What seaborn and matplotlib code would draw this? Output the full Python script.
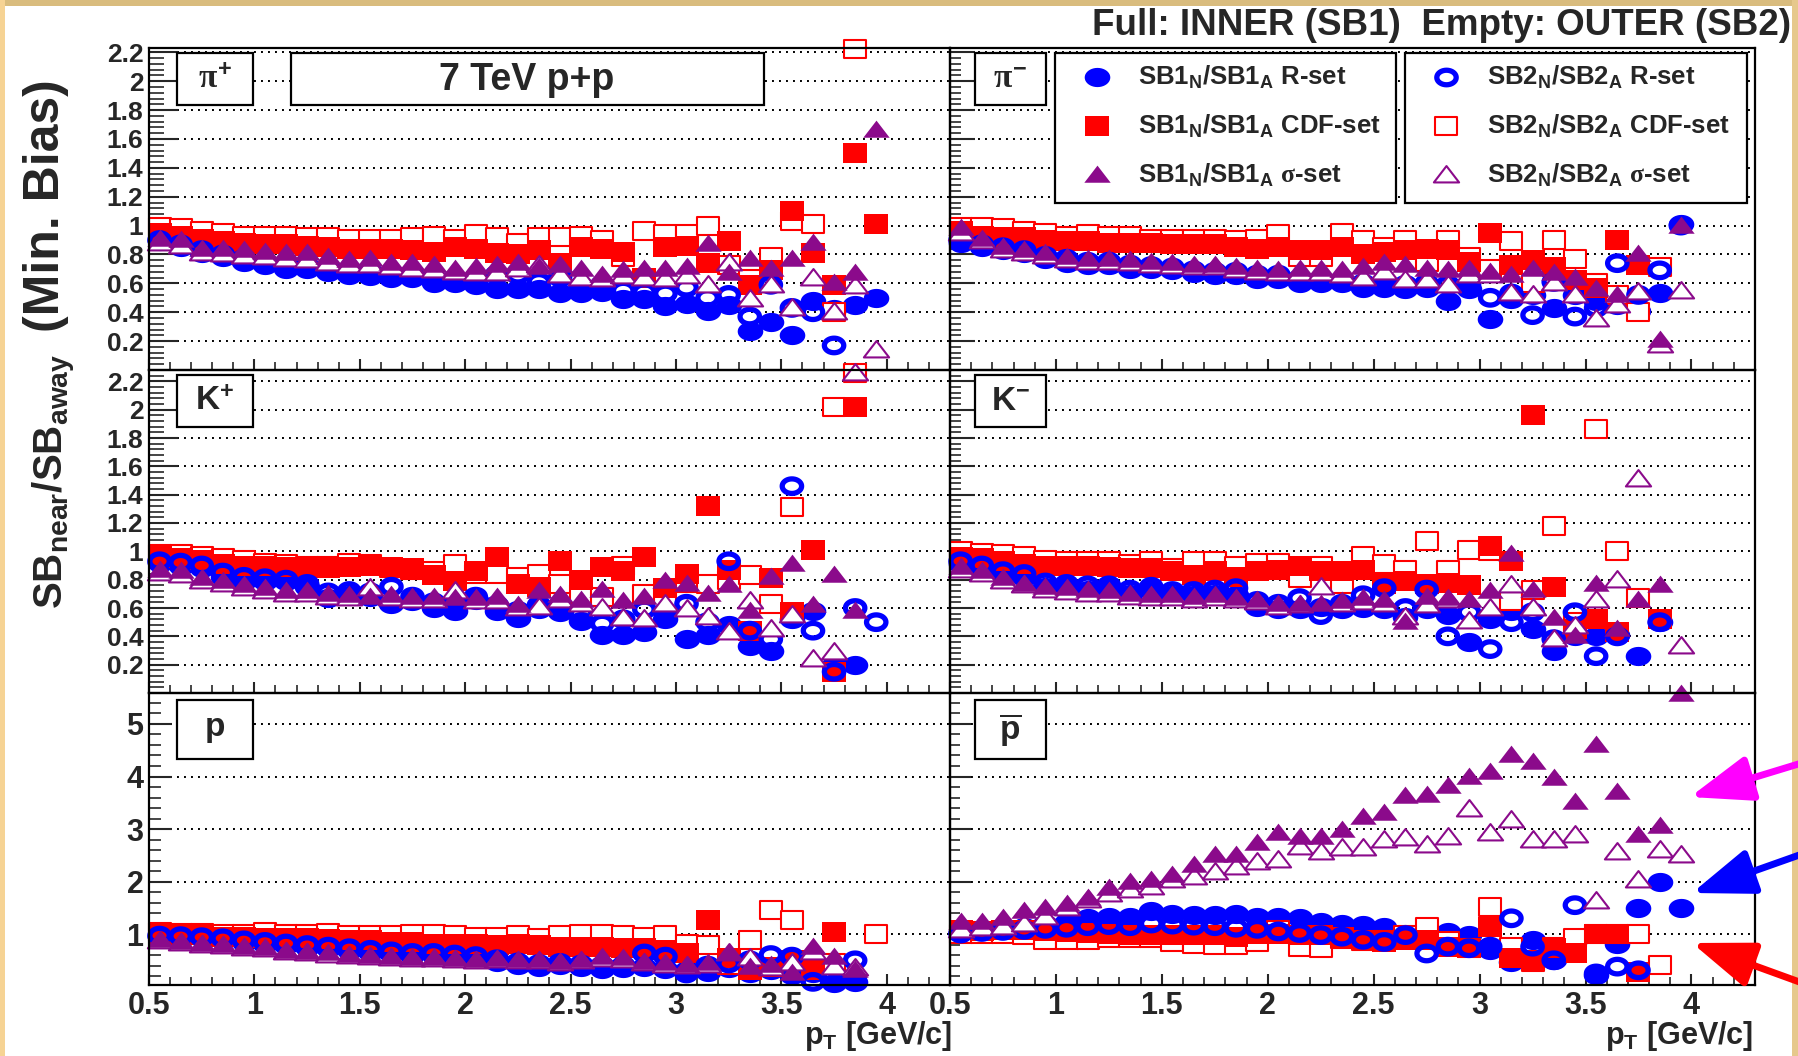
import numpy as np
import matplotlib
matplotlib.use("Agg")
import matplotlib.pyplot as plt
import seaborn as sns
from matplotlib.path import Path
from matplotlib.markers import MarkerStyle
from matplotlib.patches import Rectangle, FancyArrowPatch
from matplotlib.lines import Line2D
from matplotlib.ticker import MultipleLocator, FixedLocator, FuncFormatter

nan = np.nan

# pT bin centres [GeV/c]
pt = [0.55, 0.65, 0.75, 0.85, 0.95, 1.05, 1.15, 1.25, 1.35, 1.45, 1.55, 1.65,
      1.75, 1.85, 1.95, 2.05, 2.15, 2.25, 2.35, 2.45, 2.55, 2.65, 2.75, 2.85,
      2.95, 3.05, 3.15, 3.25, 3.35, 3.45, 3.55, 3.65, 3.75, 3.85, 3.95]

# pi+  (R1/C1/S1 = inner SB1, R2/C2/S2 = outer SB2)
pip_r1 = [0.89, 0.85, 0.81, 0.78, 0.75, 0.73, 0.70, 0.70, 0.68, 0.66, 0.65, 0.64, 0.64, 0.60, 0.60, 0.59, 0.56, 0.56,
          0.56, 0.53, 0.53, 0.54, 0.49, 0.49, 0.44, 0.46, 0.41, 0.45, 0.27, 0.33, 0.24, 0.48, 0.42, 0.45, 0.50]
pip_c1 = [0.95, 0.93, 0.91, 0.89, 0.88, 0.87, 0.87, 0.86, 0.85, 0.84, 0.84, 0.84, 0.83, 0.82, 0.85, 0.84, 0.81, 0.80,
          0.83, 0.74, 0.85, 0.84, 0.82, 0.64, 0.85, 0.86, 0.74, 0.89, 0.59, 0.69, 1.10, 0.81, 0.59, 1.50, 1.01]
pip_s1 = [0.91, 0.90, 0.84, 0.84, 0.83, 0.82, 0.81, 0.81, 0.78, 0.76, 0.77, 0.74, 0.74, 0.73, 0.70, 0.71, 0.73, 0.74,
          0.71, 0.73, 0.70, 0.66, 0.69, 0.70, 0.70, 0.71, 0.87, 0.67, 0.77, 0.70, 0.77, 0.88, 0.60, 0.67, 1.66]
pip_r2 = [0.90, 0.87, 0.83, 0.80, 0.77, 0.75, 0.73, 0.72, 0.70, 0.69, 0.68, 0.67, 0.66, 0.64, 0.63, 0.62, 0.66, 0.66,
          0.61, 0.64, 0.58, 0.59, 0.55, 0.54, 0.53, 0.57, 0.50, 0.52, 0.37, 0.59, 0.43, 0.40, 0.17, nan, nan]
pip_c2 = [0.99, 0.98, 0.96, 0.95, 0.93, 0.93, 0.93, 0.92, 0.92, 0.91, 0.91, 0.91, 0.92, 0.93, 0.91, 0.94, 0.92, 0.88,
          0.92, 0.92, 0.93, 0.90, 0.78, 0.96, 0.94, 0.94, 1.00, 0.73, 0.63, 0.78, 1.03, 1.01, 0.40, 2.22, nan]
pip_s2 = [0.88, 0.86, 0.81, 0.80, 0.79, 0.78, 0.77, 0.76, 0.74, 0.73, 0.73, 0.71, 0.70, 0.69, 0.68, 0.67, 0.67, 0.70,
          0.73, 0.66, 0.64, 0.63, 0.65, 0.64, 0.63, 0.65, 0.59, 0.74, 0.49, 0.59, 0.43, 0.64, 0.40, 0.58, 0.14]

# pi-
pim_r1 = [0.88, 0.85, 0.83, 0.81, 0.77, 0.74, 0.73, 0.73, 0.70, 0.70, 0.69, 0.67, 0.66, 0.66, 0.63, 0.63, 0.60, 0.60,
          0.60, 0.57, 0.57, 0.56, 0.57, 0.48, 0.56, 0.35, 0.49, 0.52, 0.43, 0.52, 0.48, 0.45, 0.41, 0.53, 1.01]
pim_c1 = [0.96, 0.93, 0.92, 0.92, 0.90, 0.89, 0.89, 0.88, 0.88, 0.88, 0.87, 0.87, 0.87, 0.85, 0.84, 0.85, 0.83, 0.83,
          0.85, 0.80, 0.82, 0.83, 0.84, 0.83, 0.75, 0.95, 0.73, 0.76, 0.71, 0.62, 0.57, 0.90, 0.73, nan, nan]
pim_s1 = [0.98, 0.91, 0.85, 0.83, 0.81, 0.78, 0.77, 0.77, 0.76, 0.75, 0.74, 0.73, 0.73, 0.71, 0.70, 0.69, 0.70, 0.70,
          0.69, 0.71, 0.74, 0.73, 0.70, 0.69, 0.70, 0.68, 0.66, 0.70, 0.67, 0.64, 0.56, 0.52, 0.80, 0.21, 1.00]
pim_r2 = [0.90, 0.87, 0.85, 0.83, 0.79, 0.77, 0.75, 0.75, 0.73, 0.72, 0.71, 0.69, 0.68, 0.68, 0.66, 0.66, 0.63, 0.62,
          0.62, 0.60, 0.60, 0.59, 0.60, 0.59, 0.59, 0.50, 0.53, 0.38, 0.61, 0.37, 0.43, 0.74, 0.52, 0.69, 1.00]
pim_c2 = [0.99, 0.99, 0.98, 0.96, 0.95, 0.93, 0.94, 0.93, 0.93, 0.91, 0.91, 0.91, 0.91, 0.90, 0.91, 0.94, 0.78, 0.78,
          0.95, 0.90, 0.85, 0.90, 0.75, 0.90, 0.78, 0.70, 0.89, 0.60, 0.90, 0.77, 0.60, 0.52, 0.40, 0.71, nan]
pim_s2 = [0.95, 0.89, 0.83, 0.81, 0.79, 0.76, 0.75, 0.75, 0.74, 0.73, 0.72, 0.71, 0.71, 0.69, 0.68, 0.67, 0.67, 0.67,
          0.66, 0.64, 0.68, 0.62, 0.62, 0.59, 0.66, 0.66, 0.53, 0.52, 0.60, 0.52, 0.35, 0.45, 0.54, 0.17, 0.55]

# K+
kp_r1 = [0.92, 0.90, 0.88, 0.82, 0.79, 0.79, 0.79, 0.75, 0.67, 0.69, 0.68, 0.63, 0.65, 0.60, 0.58, 0.66, 0.58, 0.53,
         0.59, 0.57, 0.51, 0.41, 0.41, 0.43, 0.52, 0.38, 0.41, 0.48, 0.33, 0.30, 0.52, 0.58, 0.20, 0.20, nan]
kp_c1 = [0.97, 0.95, 0.94, 0.91, 0.90, 0.90, 0.89, 0.89, 0.88, 0.89, 0.90, 0.89, 0.88, 0.83, 0.79, 0.86, 0.96, 0.77,
         0.75, 0.93, 0.80, 0.89, 0.86, 0.96, 0.74, 0.84, 1.32, 0.87, 0.44, 0.81, 0.57, 1.01, 0.15, 2.02, nan]
kp_s1 = [0.87, 0.86, 0.81, 0.79, 0.76, 0.74, 0.72, 0.72, 0.70, 0.69, 0.68, 0.69, 0.68, 0.68, 0.67, 0.67, 0.68, 0.62,
         0.72, 0.69, 0.66, 0.73, 0.65, 0.68, 0.79, 0.77, 0.70, 0.76, 0.58, 0.82, 0.91, 0.62, 0.83, 0.58, nan]
kp_r2 = [0.93, 0.92, 0.90, 0.85, 0.82, 0.81, 0.80, 0.77, 0.71, 0.72, 0.71, 0.75, 0.68, 0.64, 0.62, 0.68, 0.62, 0.58,
         0.62, 0.60, 0.56, 0.49, 0.52, 0.59, 0.57, 0.63, 0.50, 0.93, 0.44, 0.38, 1.46, 0.44, 0.15, 0.60, 0.50]
kp_c2 = [0.98, 0.98, 0.97, 0.95, 0.94, 0.92, 0.91, 0.90, 0.90, 0.92, 0.91, 0.88, 0.87, 0.86, 0.91, 0.84, 0.84, 0.82,
         0.84, 0.77, 0.70, 0.68, 0.90, 0.70, 0.67, 0.78, 0.77, 0.80, 0.83, 0.63, 1.31, nan, 2.02, 2.26, nan]
kp_s2 = [0.85, 0.83, 0.79, 0.77, 0.74, 0.72, 0.70, 0.70, 0.68, 0.67, 0.74, 0.67, 0.66, 0.66, 0.72, 0.65, 0.65, 0.60,
         0.61, 0.66, 0.63, 0.60, 0.53, 0.52, 0.63, 0.59, 0.54, 0.43, 0.65, 0.45, 0.55, 0.24, 0.29, 2.26, nan]

# K-
km_r1 = [0.91, 0.88, 0.83, 0.82, 0.75, 0.75, 0.73, 0.74, 0.70, 0.73, 0.69, 0.69, 0.70, 0.69, 0.61, 0.59, 0.59, 0.61,
         0.59, 0.60, 0.59, 0.54, 0.59, 0.55, 0.36, 0.52, 0.58, 0.45, 0.30, 0.40, 0.40, 0.41, 0.26, 0.50, nan]
km_c1 = [0.96, 0.95, 0.93, 0.91, 0.90, 0.90, 0.90, 0.89, 0.88, 0.88, 0.86, 0.83, 0.86, 0.82, 0.86, 0.87, 0.90, 0.86,
         0.86, 0.87, 0.77, 0.79, 0.77, 0.78, 0.76, 1.04, 0.93, 1.96, 0.75, 0.45, 0.52, 0.43, nan, 0.52, nan]
km_s1 = [0.89, 0.86, 0.81, 0.77, 0.75, 0.74, 0.73, 0.72, 0.70, 0.69, 0.69, 0.68, 0.69, 0.67, 0.66, 0.63, 0.63, 0.63,
         0.65, 0.67, 0.66, 0.50, 0.68, 0.67, 0.66, 0.72, 0.98, 0.73, 0.53, 0.40, 0.77, 0.45, 0.66, 0.76, nan]
km_r2 = [0.93, 0.90, 0.86, 0.84, 0.78, 0.77, 0.76, 0.76, 0.73, 0.75, 0.72, 0.72, 0.73, 0.74, 0.65, 0.63, 0.67, 0.55,
         0.63, 0.69, 0.74, 0.60, 0.73, 0.40, 0.57, 0.31, 0.50, 0.57, 0.38, 0.57, 0.26, 0.40, nan, 0.50, nan]
km_c2 = [1.00, 0.99, 0.98, 0.97, 0.94, 0.93, 0.93, 0.93, 0.91, 0.93, 0.88, 0.93, 0.93, 0.90, 0.92, 0.92, 0.81, 0.90,
         0.77, 0.97, 0.91, 0.87, 1.07, 0.87, 1.01, 1.00, 0.65, 0.73, 1.18, 0.50, 1.86, 1.00, 0.67, nan, nan]
km_s2 = [0.87, 0.84, 0.79, 0.76, 0.73, 0.71, 0.70, 0.70, 0.68, 0.67, 0.67, 0.66, 0.67, 0.66, 0.64, 0.61, 0.62, 0.75,
         0.63, 0.64, 0.63, 0.54, 0.62, 0.66, 0.51, 0.60, 0.76, 0.60, 0.38, 0.47, 0.66, 0.80, 1.51, nan, 0.33]

# p
p_r1 = [0.95, 0.95, 0.92, 0.90, 0.85, 0.82, 0.79, 0.76, 0.73, 0.69, 0.66, 0.63, 0.60, 0.60, 0.57, 0.54, 0.47, 0.41,
        0.38, 0.41, 0.38, 0.34, 0.36, 0.38, 0.34, 0.31, 0.28, 0.35, 0.25, 0.31, 0.22, 0.25, 0.06, 0.08, nan]
p_c1 = [1.01, 0.98, 0.98, 0.95, 0.95, 0.92, 0.92, 0.92, 0.90, 0.89, 0.89, 0.85, 0.85, 0.82, 0.82, 0.82, 0.79, 0.82,
        0.79, 0.76, 0.76, 0.76, 0.73, 0.73, 0.69, 0.63, 1.27, 0.54, 0.31, 0.38, 0.50, 0.31, 1.04, nan, nan]
p_s1 = [0.89, 0.85, 0.82, 0.79, 0.76, 0.73, 0.68, 0.65, 0.63, 0.60, 0.59, 0.57, 0.54, 0.54, 0.53, 0.50, 0.53, 0.50,
        0.50, 0.47, 0.50, 0.57, 0.54, 0.47, 0.44, 0.41, 0.44, 0.63, 0.38, 0.41, 0.25, 0.76, 0.57, 0.31, nan]
p_r2 = [0.97, 0.96, 0.94, 0.92, 0.88, 0.85, 0.82, 0.79, 0.76, 0.73, 0.70, 0.67, 0.64, 0.64, 0.61, 0.58, 0.52, 0.46,
        0.43, 0.45, 0.42, 0.40, 0.40, 0.63, 0.57, 0.25, 0.40, 0.44, 0.50, 0.60, 0.57, 0.09, 0.20, 0.50, nan]
p_c2 = [1.04, 1.02, 1.02, 1.01, 1.01, 1.04, 1.01, 1.01, 1.02, 0.98, 0.98, 0.98, 1.01, 1.01, 0.98, 0.95, 0.95, 0.98,
        0.92, 0.98, 1.01, 1.01, 0.98, 0.95, 0.98, 0.82, 0.79, 0.41, 0.89, 1.45, 1.27, 0.38, 0.44, nan, 1.01]
p_s2 = [0.87, 0.83, 0.80, 0.77, 0.74, 0.71, 0.66, 0.63, 0.61, 0.58, 0.57, 0.55, 0.52, 0.52, 0.51, 0.48, 0.51, 0.48,
        0.48, 0.45, 0.48, 0.53, 0.51, 0.45, 0.42, 0.39, 0.42, 0.63, 0.55, 0.35, 0.44, 0.66, 0.38, 0.35, nan]

# p-bar
pb_r1 = [1.04, 1.08, 1.11, 1.14, 1.20, 1.23, 1.30, 1.33, 1.33, 1.43, 1.39, 1.36, 1.36, 1.39, 1.33, 1.33, 1.30, 1.23,
         1.20, 1.17, 1.14, 1.01, 1.08, 1.04, 0.98, 0.70, 0.47, 0.89, 0.50, 0.89, 0.22, 0.82, 1.49, 2.00, 1.49]
pb_c1 = [1.08, 1.06, 1.08, 1.08, 1.06, 1.04, 1.02, 1.01, 0.98, 0.98, 0.98, 0.98, 0.98, 0.95, 1.01, 1.01, 0.98, 0.98,
         0.95, 0.89, 0.85, 0.89, 0.89, 0.76, 0.73, 1.14, 0.54, 0.50, 0.73, 0.63, 1.01, 1.01, 0.28, nan, nan]
pb_s1 = [1.23, 1.23, 1.30, 1.43, 1.49, 1.58, 1.68, 1.87, 2.00, 2.03, 2.12, 2.31, 2.50, 2.50, 2.73, 2.92, 2.85, 2.85,
         2.98, 3.23, 3.30, 3.62, 3.65, 3.81, 4.00, 4.09, 4.41, 4.28, 3.97, 3.52, 4.60, 3.71, 2.89, 3.06, 5.58]
pb_r2 = [1.01, 1.04, 1.06, 1.08, 1.10, 1.12, 1.15, 1.17, 1.15, 1.20, 1.18, 1.16, 1.15, 1.12, 1.10, 1.05, 1.02, 0.98,
         0.95, 0.89, 0.85, 0.98, 0.63, 0.76, 0.73, 0.76, 1.30, 0.76, 0.50, 1.55, 0.25, 0.38, 0.31, nan, nan]
pb_c2 = [1.01, 1.00, 1.00, 0.98, 0.89, 0.89, 0.89, 0.92, 0.92, 0.92, 0.85, 0.82, 0.79, 0.79, 0.85, 1.08, 0.76, 0.73,
         0.90, 0.86, 0.89, 0.98, 1.14, 0.86, 0.73, 1.52, 0.76, 0.47, 0.76, 0.92, 1.01, 1.01, 1.01, 0.41, nan]
pb_s2 = [1.08, 1.11, 1.14, 1.20, 1.33, 1.49, 1.65, 1.77, 1.84, 1.90, 2.03, 2.09, 2.19, 2.28, 2.38, 2.41, 2.66, 2.57,
         2.63, 2.63, 2.79, 2.82, 2.70, 2.85, 3.39, 2.92, 3.17, 2.79, 2.79, 2.89, 1.62, 2.57, 2.03, 2.60, 2.50]

panel_labels = [r"$\pi^{+}$", r"$\pi^{-}$", r"$\mathbf{K}^{+}$", r"$\mathbf{K}^{-}$",
                r"$\mathbf{p}$", r"$\overline{\mathbf{p}}$"]
legend_sb1 = [r"$\mathbf{SB1_{N}/SB1_{A}}$ R-set", r"$\mathbf{SB1_{N}/SB1_{A}}$ CDF-set",
              r"$\mathbf{SB1_{N}/SB1_{A}}$ $\sigma$-set"]
legend_sb2 = [r"$\mathbf{SB2_{N}/SB2_{A}}$ R-set", r"$\mathbf{SB2_{N}/SB2_{A}}$ CDF-set",
              r"$\mathbf{SB2_{N}/SB2_{A}}$ $\sigma$-set"]
x_ticks = [0.5, 1, 1.5, 2, 2.5, 3, 3.5, 4]
y_ticks_light = [0.2, 0.4, 0.6, 0.8, 1.0, 1.2, 1.4, 1.6, 1.8, 2.0, 2.2]
y_ticks_proton = [1, 2, 3, 4, 5]

# ---------------------------------------------------------------- style
sns.set_style("white")
plt.rcParams["font.family"] = ["Liberation Sans", "DejaVu Sans"]
plt.rcParams["font.weight"] = "bold"
plt.rcParams["mathtext.fontset"] = "custom"
plt.rcParams["mathtext.rm"] = "Liberation Sans:bold"
plt.rcParams["mathtext.bf"] = "Liberation Sans:bold"
plt.rcParams["mathtext.it"] = "Liberation Serif"
plt.rcParams["mathtext.sf"] = "Liberation Sans:bold"

W, H = 1799, 1056
BLUE, RED, PURPLE = "#0000FF", "#FF0000", "#8B0A8B"

fig = plt.figure(figsize=(W / 100, H / 100), dpi=100)
fig.patch.set_facecolor("white")


def frac(x, y):
    return x / W, 1 - y / H


def box(x0, y0, x1, y1, **kw):
    r = Rectangle(frac(x0, y1), (x1 - x0) / W, (y1 - y0) / H,
                  transform=fig.transFigure, **kw)
    fig.add_artist(r)
    return r


# ROOT-like markers (the picture is slightly stretched horizontally)
t = np.linspace(0, 2 * np.pi, 41)
m_circle = MarkerStyle(Path(np.column_stack([np.cos(t), 0.75 * np.sin(t)]), closed=True))
m_square = MarkerStyle(Path([(-1, -0.8), (1, -0.8), (1, 0.8), (-1, 0.8), (-1, -0.8)], closed=True))
m_tri = MarkerStyle(Path([(-1, -0.55), (1, -0.55), (0, 0.75), (-1, -0.55)], closed=True))

series_style = {
    "r1": dict(marker=m_circle, s=340, facecolor=BLUE, edgecolor=BLUE, linewidth=0),
    "c2": dict(marker=m_square, s=260, facecolor="white", edgecolor=RED, linewidth=1.5),
    "c1": dict(marker=m_square, s=300, facecolor=RED, edgecolor=RED, linewidth=0),
    "r2": dict(marker=m_circle, s=195, facecolor="none", edgecolor=BLUE, linewidth=3.8),
    "s2": dict(marker=m_tri, s=330, facecolor="white", edgecolor=PURPLE, linewidth=1.5),
    "s1": dict(marker=m_tri, s=360, facecolor=PURPLE, edgecolor=PURPLE, linewidth=0),
}
draw_order = ["r1", "c2", "c1", "r2", "s2", "s1"]

panels = [
    dict(r1=pip_r1, c1=pip_c1, s1=pip_s1, r2=pip_r2, c2=pip_c2, s2=pip_s2),
    dict(r1=pim_r1, c1=pim_c1, s1=pim_s1, r2=pim_r2, c2=pim_c2, s2=pim_s2),
    dict(r1=kp_r1, c1=kp_c1, s1=kp_s1, r2=kp_r2, c2=kp_c2, s2=kp_s2),
    dict(r1=km_r1, c1=km_c1, s1=km_s1, r2=km_r2, c2=km_c2, s2=km_s2),
    dict(r1=p_r1, c1=p_c1, s1=p_s1, r2=p_r2, c2=p_c2, s2=p_s2),
    dict(r1=pb_r1, c1=pb_c1, s1=pb_s1, r2=pb_r2, c2=pb_c2, s2=pb_s2),
]

cols = [(149, 950), (950, 1755)]
rows = [(48, 370), (370, 693), (693, 985)]
ylims = [(0, 2.23), (0, 2.28), (0.03, 5.59)]

for k, data in enumerate(panels):
    row, col = divmod(k, 2)
    (x0, x1), (y0, y1) = cols[col], rows[row]
    ax = fig.add_axes([x0 / W, 1 - y1 / H, (x1 - x0) / W, (y1 - y0) / H])
    ax.set_facecolor("none")

    for key in draw_order:
        sns.scatterplot(x=pt, y=data[key], ax=ax, legend=False, clip_on=False,
                        **series_style[key])

    ax.set_xlim(0.5, 4.3)
    ax.set_ylim(*ylims[row])
    ax.set_xlabel("")
    ax.set_ylabel("")

    ax.xaxis.set_major_locator(FixedLocator(x_ticks))
    ax.xaxis.set_minor_locator(MultipleLocator(0.1))
    ax.xaxis.set_major_formatter(FuncFormatter(lambda v, p: f"{v:g}"))
    if row < 2:
        ax.yaxis.set_major_locator(FixedLocator(y_ticks_light))
        ax.yaxis.set_minor_locator(MultipleLocator(0.04))
        ysize = 19
        ylen = (21, 11) if col == 0 else (18, 8)
    else:
        ax.yaxis.set_major_locator(FixedLocator(y_ticks_proton))
        ax.yaxis.set_minor_locator(MultipleLocator(0.2))
        ysize = 22
        ylen = (16.5, 8.5) if col == 0 else (15, 7.5)
    ax.yaxis.set_major_formatter(FuncFormatter(lambda v, p: f"{v:g}"))

    ax.tick_params(axis="y", which="major", direction="in", length=ylen[0], width=1.5,
                   left=True, right=False, labelleft=(col == 0), labelsize=ysize, pad=4)
    ax.tick_params(axis="y", which="minor", direction="in", length=ylen[1], width=1.2,
                   left=True, right=False)
    ax.tick_params(axis="x", which="major", direction="in", length=8, width=1.5,
                   bottom=True, top=False, labelbottom=(row == 2), labelsize=22, pad=4)
    ax.tick_params(axis="x", which="minor", direction="in", length=6, width=1.2,
                   bottom=True, top=False)
    for lab in ax.get_xticklabels() + ax.get_yticklabels():
        lab.set_fontweight("bold")

    ax.grid(axis="y", which="major", color="black", linestyle=(0, (1, 2.6)), linewidth=1.4)
    ax.grid(axis="x", visible=False)
    for sp in ax.spines.values():
        sp.set_visible(True)
        sp.set_linewidth(1.6)
        sp.set_color("black")

    # particle label box
    bx0 = 177 if col == 0 else 975
    bx1 = 253 if col == 0 else 1046
    by0, by1 = (y0 + 5, y0 + 57) if row < 2 else (y0 + 7, y0 + 66)
    box(bx0, by0, bx1, by1, facecolor="white", edgecolor="black", linewidth=1.6, zorder=5)
    fig.text(*frac((bx0 + bx1) / 2, (by0 + by1) / 2), panel_labels[k], ha="center",
             va="center", fontsize=24, zorder=6)

# "7 TeV p+p" box
box(291, 53, 764, 105, facecolor="white", edgecolor="black", linewidth=1.6, zorder=5)
fig.text(*frac(527, 80), "7 TeV p+p", ha="center", va="center", fontsize=27,
         fontweight="bold", zorder=6)

# legends (two boxes)
legend_boxes = [(1055, 1396, 1097, 1138, legend_sb1, ["r1", "c1", "s1"]),
                (1405, 1747, 1446, 1487, legend_sb2, ["r2", "c2", "s2"])]
for lx0, lx1, mx, tx, labels, keys in legend_boxes:
    box(lx0, 53, lx1, 203, facecolor="white", edgecolor="black", linewidth=1.6, zorder=5)
    for j, (lab, key) in enumerate(zip(labels, keys)):
        yy = 77 + 49 * j
        st = series_style[key]
        ms = np.sqrt(st["s"])
        mk = Line2D([mx / W], [1 - yy / H], transform=fig.transFigure, linestyle="none",
                    marker=st["marker"], markersize=ms, markerfacecolor=st["facecolor"],
                    markeredgecolor=st["edgecolor"], markeredgewidth=st["linewidth"], zorder=6)
        fig.add_artist(mk)
        fig.text(*frac(tx, yy), lab, ha="left", va="center", fontsize=18.5,
                 fontweight="bold", zorder=6)

# titles / axis labels
fig.text(*frac(1791, 35), "Full: INNER (SB1)  Empty: OUTER (SB2)", ha="right",
         va="baseline", fontsize=26.5, fontweight="bold")
fig.text(*frac(46, 206), "(Min. Bias)", rotation=90, ha="center", va="center",
         fontsize=36, fontweight="bold")
fig.text(*frac(55, 481), r"$\mathbf{SB_{near}/SB_{away}}$", rotation=90, ha="center",
         va="center", fontsize=29)
for xr in (952, 1753):
    fig.text(*frac(xr, 1044), r"$\mathbf{p_{T}}$ [GeV/c]", ha="right", va="baseline",
             fontsize=22, fontweight="bold")

# tan frame of the slide
box(0, 0, W, 6, facecolor="#D9BC7E", edgecolor="none", zorder=7)
box(0, 0, 5, H, facecolor="#F6D394", edgecolor="none", zorder=7)
box(1792, 0, W, H, facecolor="#E6C88C", edgecolor="none", zorder=7)

# annotation arrows on the p-bar panel
for (xa, ya), (xb, yb), c in [((1805, 762), (1690, 797), "#FF00FF"),
                              ((1805, 853), (1692, 893), "#0000FF"),
                              ((1805, 984), (1692, 943), "#FF0000")]:
    arr = FancyArrowPatch(frac(xa, ya), frac(xb, yb), transform=fig.transFigure,
                          arrowstyle="-|>,head_length=3.8,head_width=1.4", mutation_scale=10,
                          linewidth=5, color=c, shrinkA=0, shrinkB=0, zorder=8)
    fig.add_artist(arr)

fig.savefig("out.png", dpi=100, facecolor="white")
